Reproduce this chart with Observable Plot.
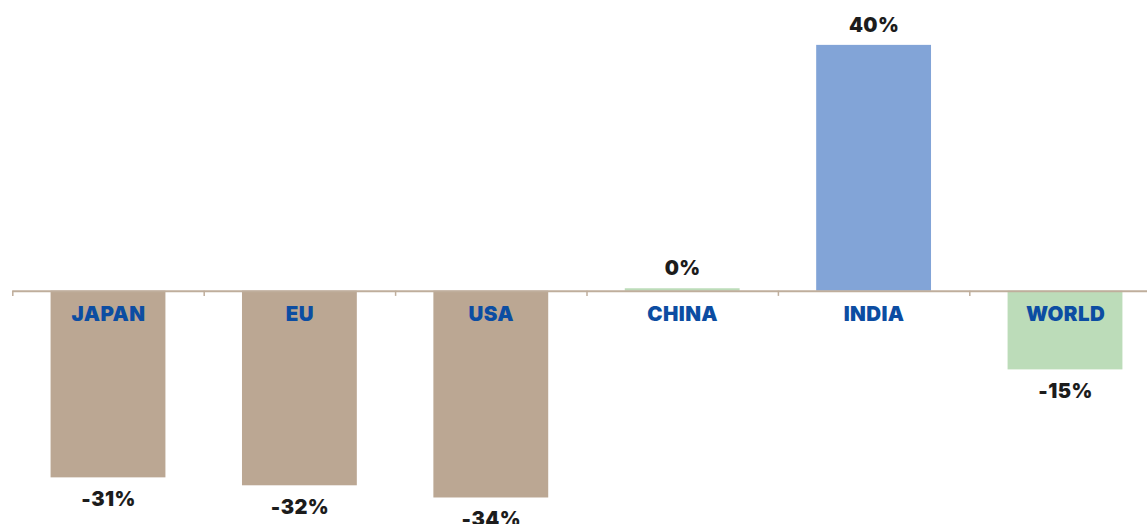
<!DOCTYPE html>
<html>
<head>
<meta charset="utf-8">
<script src="https://cdn.jsdelivr.net/npm/d3@7"></script>
<script src="https://cdn.jsdelivr.net/npm/@observablehq/plot@0.6"></script>
<style>
  html, body { margin: 0; padding: 0; background: #fff; }
  #chart { width: 1147px; height: 524px; overflow: hidden; }
</style>
</head>
<body>
<div id="chart"></div>
<script>
const regions = ["JAPAN", "EU", "USA", "CHINA", "INDIA", "WORLD"];
const changes = [-30.6, -31.9, -33.9, 0.4, 40.3, -12.9];
const valueLabels = ["-31%", "-32%", "-34%", "0%", "40%", "-15%"];
const groups = ["Advanced", "Advanced", "Advanced", "Other", "India", "Other"];
const boundaries = [0, 1, 2, 3, 4, 5, 6];

const data = regions.map((r, i) => ({
  region: r, i, value: changes[i], label: valueLabels[i], group: groups[i]
}));

const zeroY = 290.7;
const pxPerUnit = 6.1;

const fontFam = "Inter, Lato, 'Open Sans', sans-serif";

const plot = Plot.plot({
  width: 1147,
  height: 524,
  margin: 0,
  style: { background: "#fff", overflow: "visible" },
  x: { type: "linear", domain: [0, 6], range: [12.3, 1160.7], axis: null },
  y: { domain: [-40, 40], range: [zeroY + 40 * pxPerUnit, zeroY - 40 * pxPerUnit], axis: null },
  color: { domain: ["Advanced", "Other", "India"], range: ["#BBA793", "#BCDCB9", "#82A4D7"] },
  marks: [
    Plot.rectY(data, {
      x1: d => d.i + 0.2,
      x2: d => d.i + 0.8,
      y1: 0,
      y2: "value",
      fill: "group"
    }),
    Plot.ruleY([0], { x1: 0, x2: 6, stroke: "#BFAE9C", strokeWidth: 2 }),
    Plot.ruleX(boundaries, { x: d => d, y1: 0, y2: -0.85, stroke: "#BFAE9C", strokeWidth: 1.5 }),
    Plot.text(data, {
      x: d => d.i + 0.5,
      y: 0,
      dy: 23,
      text: "region",
      fill: "#0C4DA2",
      fontSize: 20.5,
      fontWeight: 900,
      fontFamily: fontFam
    }),
    Plot.text(data, {
      x: d => d.i + 0.5,
      y: "value",
      text: "label",
      fill: "#1C1C1C",
      fontSize: 20,
      fontWeight: 900,
      fontFamily: fontFam,
      filter: d => d.value >= 0,
      dy: -20
    }),
    Plot.text(data, {
      x: d => d.i + 0.5,
      y: "value",
      text: "label",
      fill: "#1C1C1C",
      fontSize: 20,
      fontWeight: 900,
      fontFamily: fontFam,
      filter: d => d.value < 0,
      dy: 22
    })
  ]
});

const style = document.createElement("style");
style.textContent = "#chart svg text { letter-spacing: 0.4px; }";
document.head.appendChild(style);
document.getElementById("chart").appendChild(plot);
</script>
</body>
</html>
